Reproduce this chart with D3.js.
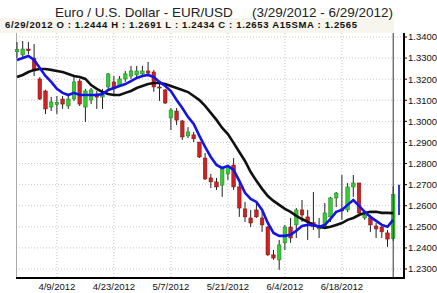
<!DOCTYPE html>
<html><head><meta charset="utf-8">
<script src="https://cdn.jsdelivr.net/npm/d3@7"></script>
<style>
html,body{margin:0;padding:0;background:#fff;}
svg{display:block;font-family:"Liberation Sans",Arial,sans-serif;}
</style></head>
<body><svg id="c" width="437" height="293"></svg>
<script>
const dates = ["3/29/2012","3/30/2012","4/2/2012","4/3/2012","4/4/2012","4/5/2012","4/6/2012","4/9/2012","4/10/2012","4/11/2012","4/12/2012","4/13/2012","4/16/2012","4/17/2012","4/18/2012","4/19/2012","4/20/2012","4/23/2012","4/24/2012","4/25/2012","4/26/2012","4/27/2012","4/30/2012","5/1/2012","5/2/2012","5/3/2012","5/4/2012","5/7/2012","5/8/2012","5/9/2012","5/10/2012","5/11/2012","5/14/2012","5/15/2012","5/16/2012","5/17/2012","5/18/2012","5/21/2012","5/22/2012","5/23/2012","5/24/2012","5/25/2012","5/28/2012","5/29/2012","5/30/2012","5/31/2012","6/1/2012","6/4/2012","6/5/2012","6/6/2012","6/7/2012","6/8/2012","6/11/2012","6/12/2012","6/13/2012","6/14/2012","6/15/2012","6/18/2012","6/19/2012","6/20/2012","6/21/2012","6/22/2012","6/25/2012","6/26/2012","6/27/2012","6/28/2012","6/29/2012"];
const open = [1.3330,1.3315,1.3343,1.3300,1.3201,1.3144,1.3068,1.3080,1.3106,1.3073,1.3106,1.3191,1.3068,1.3101,1.3130,1.3115,1.3163,1.3187,1.3168,1.3201,1.3215,1.3220,1.3225,1.3239,1.3234,1.3163,1.3149,1.3016,1.3049,1.3002,1.2931,1.2936,1.2902,1.2826,1.2732,1.2713,1.2698,1.2751,1.2793,1.2689,1.2585,1.2542,1.2580,1.2542,1.2499,1.2367,1.2343,1.2424,1.2499,1.2509,1.2580,1.2547,1.2520,1.2490,1.2499,1.2547,1.2637,1.2585,1.2580,1.2689,1.2708,1.2542,1.2542,1.2504,1.2499,1.2471,1.2444];
const high = [1.3376,1.3381,1.3376,1.3367,1.3210,1.3150,1.3116,1.3120,1.3120,1.3130,1.3215,1.3201,1.3154,1.3158,1.3144,1.3154,1.3229,1.3215,1.3215,1.3239,1.3263,1.3263,1.3263,1.3282,1.3244,1.3177,1.3154,1.3063,1.3063,1.3007,1.2973,1.2950,1.2902,1.2850,1.2751,1.2732,1.2784,1.2794,1.2826,1.2708,1.2618,1.2580,1.2613,1.2570,1.2504,1.2390,1.2438,1.2509,1.2542,1.2589,1.2627,1.2580,1.2665,1.2542,1.2613,1.2642,1.2665,1.2746,1.2708,1.2746,1.2708,1.2566,1.2556,1.2518,1.2509,1.2485,1.2691];
const low = [1.3300,1.3296,1.3319,1.3215,1.3101,1.3035,1.3049,1.3035,1.3059,1.3059,1.3097,1.3073,1.2997,1.3082,1.3059,1.3059,1.3154,1.3130,1.3163,1.3187,1.3201,1.3210,1.3210,1.3215,1.3140,1.3097,1.3082,1.2959,1.2983,1.2912,1.2921,1.2902,1.2826,1.2722,1.2684,1.2675,1.2642,1.2722,1.2675,1.2547,1.2523,1.2499,1.2542,1.2476,1.2362,1.2343,1.2296,1.2390,1.2424,1.2447,1.2523,1.2438,1.2485,1.2447,1.2495,1.2523,1.2594,1.2533,1.2570,1.2642,1.2556,1.2533,1.2476,1.2447,1.2447,1.2405,1.2434];
const close = [1.3340,1.3343,1.3335,1.3239,1.3106,1.3059,1.3092,1.3090,1.3082,1.3106,1.3187,1.3082,1.3144,1.3149,1.3115,1.3125,1.3225,1.3154,1.3201,1.3225,1.3239,1.3239,1.3239,1.3229,1.3163,1.3158,1.3087,1.3054,1.3006,1.2926,1.2950,1.2917,1.2831,1.2727,1.2713,1.2689,1.2779,1.2784,1.2689,1.2589,1.2547,1.2518,1.2547,1.2509,1.2367,1.2352,1.2414,1.2499,1.2447,1.2580,1.2556,1.2523,1.2500,1.2504,1.2566,1.2637,1.2660,1.2575,1.2689,1.2708,1.2566,1.2556,1.2509,1.2490,1.2476,1.2442,1.2653];
// black line: A15SMA
const sma15 = [1.3210,1.3220,1.3234,1.3244,1.3248,1.3248,1.3244,1.3239,1.3234,1.3225,1.3215,1.3210,1.3201,1.3172,1.3154,1.3139,1.3130,1.3125,1.3125,1.3135,1.3144,1.3158,1.3168,1.3177,1.3182,1.3182,1.3177,1.3168,1.3158,1.3149,1.3139,1.3120,1.3101,1.3073,1.3040,1.3007,1.2969,1.2940,1.2898,1.2855,1.2812,1.2760,1.2718,1.2680,1.2646,1.2623,1.2604,1.2585,1.2571,1.2552,1.2537,1.2523,1.2509,1.2500,1.2495,1.2500,1.2509,1.2518,1.2533,1.2542,1.2556,1.2566,1.2571,1.2571,1.2566,1.2566,1.2565];
// blue line: short moving average
const smaFast = [1.3291,1.3300,1.3310,1.3291,1.3253,1.3215,1.3187,1.3154,1.3135,1.3125,1.3135,1.3125,1.3125,1.3125,1.3125,1.3130,1.3149,1.3158,1.3168,1.3177,1.3191,1.3206,1.3215,1.3220,1.3210,1.3187,1.3168,1.3144,1.3101,1.3063,1.3021,1.2988,1.2931,1.2879,1.2831,1.2793,1.2779,1.2789,1.2770,1.2718,1.2661,1.2632,1.2618,1.2580,1.2518,1.2471,1.2457,1.2457,1.2462,1.2481,1.2504,1.2509,1.2509,1.2500,1.2509,1.2537,1.2571,1.2580,1.2604,1.2627,1.2599,1.2571,1.2547,1.2528,1.2509,1.2500,1.2533];
const priceTicks = [1.34,1.33,1.32,1.31,1.30,1.29,1.28,1.27,1.26,1.25,1.24,1.23];
const dateTicks = ["4/9/2012","4/23/2012","5/7/2012","5/21/2012","6/4/2012","6/18/2012"];
const lastRange = [1.2700,1.2556];

const svg = d3.select("#c");
const plotTop = 33, plotBottom = 278, plotLeft = 16, axisX = 404;
const x = d3.scalePoint().domain(dates).range([17, 393.2]);
const y = d3.scaleLinear().domain([1.23, 1.34]).range([269, 37]);

// header band
svg.append("rect").attr("x",0).attr("y",18).attr("width",axisX-10).attr("height",plotTop-18).attr("fill","#f7f5ee");
svg.append("text").attr("x",55).attr("y",17).attr("font-size",13.5).attr("fill","#222").text("Euro / U.S. Dollar -  EUR/USD");
svg.append("text").attr("x",252).attr("y",17).attr("font-size",13.5).attr("fill","#222").text("(3/29/2012 - 6/29/2012)");
svg.append("text").attr("x",5).attr("y",28).attr("font-size",9.5).attr("font-weight","bold").attr("fill","#111")
  .attr("textLength",352).attr("lengthAdjust","spacing")
  .text("6/29/2012 O : 1.2444  H : 1.2691  L : 1.2434  C : 1.2653  A15SMA : 1.2565");

// grid
svg.append("g").selectAll("line").data(priceTicks).join("line")
  .attr("x1",plotLeft).attr("x2",axisX).attr("y1",d=>y(d)).attr("y2",d=>y(d))
  .attr("stroke","#c8c8c8").attr("stroke-width",1).attr("stroke-dasharray","1,2");
svg.append("g").selectAll("line").data(dateTicks).join("line")
  .attr("x1",d=>x(d)).attr("x2",d=>x(d)).attr("y1",plotTop).attr("y2",plotBottom)
  .attr("stroke","#c8c8c8").attr("stroke-width",1).attr("stroke-dasharray","1,2");

// left border
svg.append("line").attr("x1",plotLeft+0.5).attr("x2",plotLeft+0.5).attr("y1",plotTop).attr("y2",plotBottom).attr("stroke","#aaa");

// candles
const idx = d3.range(dates.length);
const bw = 3.6;
const g = svg.append("g");
g.selectAll("line.w").data(idx).join("line").attr("class","w")
  .attr("x1",i=>x(dates[i])).attr("x2",i=>x(dates[i]))
  .attr("y1",i=>y(high[i])).attr("y2",i=>y(low[i]))
  .attr("stroke","#222").attr("stroke-width",1);
g.selectAll("rect").data(idx).join("rect")
  .attr("x",i=>x(dates[i])-bw/2).attr("width",bw)
  .attr("y",i=>y(Math.max(open[i],close[i])))
  .attr("height",i=>Math.max(1,Math.abs(y(open[i])-y(close[i]))))
  .attr("fill",i=>close[i]>=open[i]?"#33cc33":"#cc2222")
  .attr("stroke",i=>close[i]>=open[i]?"#1f7a1f":"#7a1414").attr("stroke-width",0.5);

// lines
const lineGen = arr => d3.line().x((d,i)=>x(dates[i])).y(d=>y(d))(arr);
svg.append("path").attr("d",lineGen(sma15)).attr("fill","none").attr("stroke","#111").attr("stroke-width",2.6);
svg.append("path").attr("d",lineGen(smaFast)).attr("fill","none").attr("stroke","#1414e6").attr("stroke-width",2.6);

// cursor line at last bar
const lx = x(dates[dates.length-1]);
svg.append("line").attr("x1",lx).attr("x2",lx).attr("y1",plotTop).attr("y2",plotBottom).attr("stroke","#333").attr("stroke-width",1);
svg.append("line").attr("x1",399).attr("x2",399).attr("y1",y(lastRange[0])).attr("y2",y(lastRange[1])).attr("stroke","#2a3fd0").attr("stroke-width",2);

// axes
svg.append("line").attr("x1",plotLeft).attr("x2",axisX+1).attr("y1",plotBottom).attr("y2",plotBottom).attr("stroke","#000").attr("stroke-width",2);
svg.append("line").attr("x1",axisX).attr("x2",axisX).attr("y1",plotTop).attr("y2",plotBottom).attr("stroke","#000").attr("stroke-width",2);
const ya = svg.append("g");
ya.selectAll("line").data(priceTicks).join("line")
  .attr("x1",axisX).attr("x2",axisX+3).attr("y1",d=>y(d)).attr("y2",d=>y(d)).attr("stroke","#000");
ya.selectAll("text").data(priceTicks).join("text")
  .attr("x",408).attr("y",d=>y(d)).attr("dy","0.35em").attr("font-size",9.5).attr("fill","#111")
  .text(d=>d3.format(".4f")(d));
svg.append("g").selectAll("text").data(dateTicks).join("text")
  .attr("x",d=>x(d)).attr("y",290).attr("text-anchor","middle").attr("font-size",9.5).attr("fill","#111")
  .text(d=>d);
</script></body></html>
